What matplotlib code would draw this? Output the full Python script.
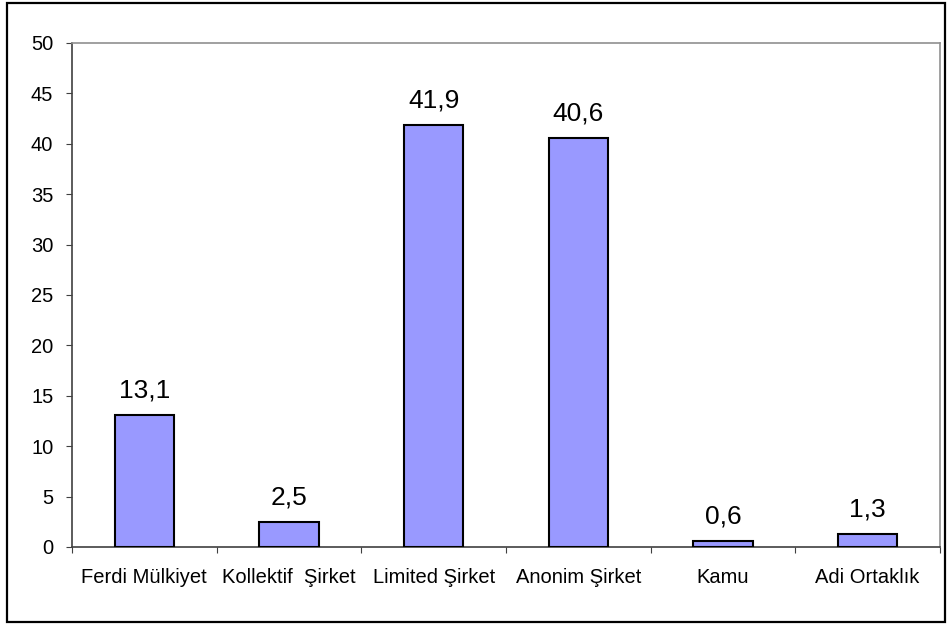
import numpy as np
import matplotlib.pyplot as plt
from matplotlib.patches import Rectangle

categories = ["Ferdi Mülkiyet", "Kollektif  Şirket", "Limited Şirket",
              "Anonim Şirket", "Kamu", "Adi Ortaklık"]
values = [13.1, 2.5, 41.9, 40.6, 0.6, 1.3]
yticks = [0, 5, 10, 15, 20, 25, 30, 35, 40, 45, 50]

plt.rcParams['font.family'] = ['Liberation Sans', 'DejaVu Sans']

fig = plt.figure(figsize=(9.49, 6.24), dpi=100)
ax = fig.add_axes([0.0759, 0.1234, 0.9146, 0.8077])

x = np.arange(len(categories))
bars = ax.bar(x, values, width=0.41, color="#9999FF", edgecolor="black", linewidth=1.5, zorder=3)

# value labels with comma decimal
for xi, v in zip(x, values):
    ax.annotate(f"{v:.1f}".replace(".", ","), (xi, v), xytext=(0, 12.5),
                textcoords="offset points", ha="center", va="baseline", fontsize=19)

ax.set_xlim(-0.5, len(categories) - 0.5)
ax.set_ylim(0, 50)
ax.set_yticks(yticks)
ax.set_yticklabels([str(t) for t in yticks], fontsize=14.5)

# ticks between categories, labels centered
ax.set_xticks(np.arange(len(categories) + 1) - 0.5)
ax.set_xticklabels([])
ax.set_xticks(x, minor=True)
ax.set_xticklabels(categories, minor=True, fontsize=14.5)
ax.tick_params(axis="x", which="minor", length=0, pad=15)
ax.tick_params(axis="x", which="major", length=4.5, color="#404040", direction="out")
ax.tick_params(axis="y", length=4.5, color="#404040", direction="out", pad=9)

for s in ["left", "bottom"]:
    ax.spines[s].set_color("#404040")
    ax.spines[s].set_linewidth(1.2)
for s in ["top", "right"]:
    ax.spines[s].set_color("#909090")
    ax.spines[s].set_linewidth(1.2)

# outer border around the whole chart
fig.patches.append(Rectangle((7 / 949, 2 / 624), 938 / 949, 619 / 624,
                             transform=fig.transFigure, fill=False,
                             edgecolor="black", linewidth=1.6))

fig.savefig("out.png", dpi=100)
